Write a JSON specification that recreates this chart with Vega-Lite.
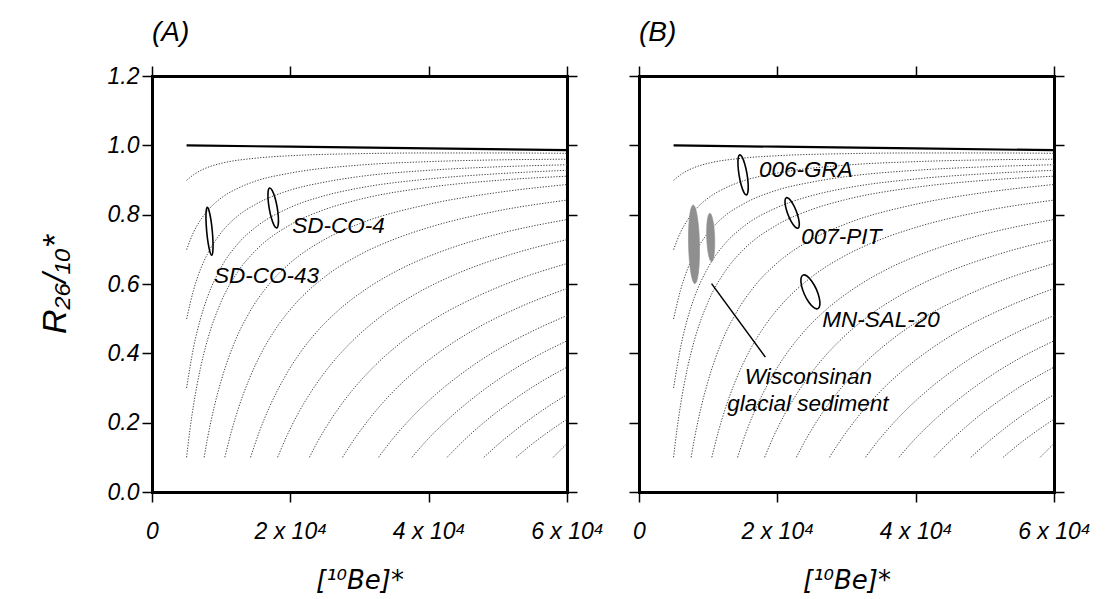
{
  "$schema": "https://vega.github.io/schema/vega-lite/v6.json",
  "padding": {"left": 38, "top": 19, "right": 5, "bottom": 5},
  "spacing": 24,
  "config": {
    "view": {"stroke": null},
    "font": "Liberation Sans",
    "axis": {
      "domainColor": "black", "domainWidth": 3, "domainCap": "square",
      "tickColor": "black", "tickWidth": 1.5, "tickSize": 10,
      "grid": false,
      "labelFont": "Liberation Sans", "labelFontStyle": "italic", "labelFontSize": 23, "labelColor": "black",
      "labelPadding": 3, "labelFlush": false, "labelOverlap": false,
      "titleFont": "Liberation Sans", "titleFontStyle": "italic", "titleFontWeight": "normal", "titleFontSize": 34, "titleColor": "black"
    },
    "title": {"font": "Liberation Sans", "fontStyle": "italic", "fontWeight": "normal", "fontSize": 28, "anchor": "start", "frame": "group", "color": "black", "offset": 18}
  },
  "datasets": {
    "curves": [
      {"c":"c1","x":5000,"y":0.899},{"c":"c1","x":6000,"y":0.915},{"c":"c1","x":8000,"y":0.936},{"c":"c1","x":10000,"y":0.948},{"c":"c1","x":15000,"y":0.963},{"c":"c1","x":20000,"y":0.970},{"c":"c1","x":30000,"y":0.976},{"c":"c1","x":40000,"y":0.978},{"c":"c1","x":50000,"y":0.978},{"c":"c1","x":60000,"y":0.977},
      {"c":"c2","x":5000,"y":0.699},{"c":"c2","x":6000,"y":0.749},{"c":"c2","x":7000,"y":0.784},{"c":"c2","x":8000,"y":0.811},{"c":"c2","x":10000,"y":0.848},{"c":"c2","x":12500,"y":0.877},{"c":"c2","x":15000,"y":0.897},{"c":"c2","x":20000,"y":0.920},{"c":"c2","x":30000,"y":0.943},{"c":"c2","x":40000,"y":0.953},{"c":"c2","x":50000,"y":0.958},{"c":"c2","x":60000,"y":0.960},
      {"c":"c3","x":5000,"y":0.499},{"c":"c3","x":6000,"y":0.582},{"c":"c3","x":7000,"y":0.642},{"c":"c3","x":8000,"y":0.686},{"c":"c3","x":10000,"y":0.748},{"c":"c3","x":12500,"y":0.798},{"c":"c3","x":15000,"y":0.830},{"c":"c3","x":20000,"y":0.871},{"c":"c3","x":25000,"y":0.894},{"c":"c3","x":30000,"y":0.910},{"c":"c3","x":40000,"y":0.928},{"c":"c3","x":50000,"y":0.938},{"c":"c3","x":60000,"y":0.944},
      {"c":"c4","x":5000,"y":0.300},{"c":"c4","x":6000,"y":0.416},{"c":"c4","x":7000,"y":0.499},{"c":"c4","x":8000,"y":0.561},{"c":"c4","x":10000,"y":0.648},{"c":"c4","x":12500,"y":0.718},{"c":"c4","x":15000,"y":0.764},{"c":"c4","x":20000,"y":0.821},{"c":"c4","x":25000,"y":0.855},{"c":"c4","x":30000,"y":0.877},{"c":"c4","x":40000,"y":0.903},{"c":"c4","x":50000,"y":0.918},{"c":"c4","x":60000,"y":0.928},
      {"c":"c5","x":5000,"y":0.100},{"c":"c5","x":5500,"y":0.182},{"c":"c5","x":6000,"y":0.250},{"c":"c5","x":7000,"y":0.357},{"c":"c5","x":8000,"y":0.437},{"c":"c5","x":10000,"y":0.549},{"c":"c5","x":12500,"y":0.638},{"c":"c5","x":15000,"y":0.697},{"c":"c5","x":20000,"y":0.771},{"c":"c5","x":25000,"y":0.815},{"c":"c5","x":30000,"y":0.844},{"c":"c5","x":40000,"y":0.879},{"c":"c5","x":50000,"y":0.899},{"c":"c5","x":60000,"y":0.911},
      {"c":"c6","x":7540,"y":0.1},{"c":"c6","x":8000,"y":0.152},{"c":"c6","x":9000,"y":0.246},{"c":"c6","x":10000,"y":0.321},{"c":"c6","x":12000,"y":0.435},{"c":"c6","x":14000,"y":0.515},{"c":"c6","x":17000,"y":0.601},{"c":"c6","x":20000,"y":0.661},{"c":"c6","x":25000,"y":0.729},{"c":"c6","x":30000,"y":0.774},{"c":"c6","x":40000,"y":0.830},{"c":"c6","x":50000,"y":0.864},{"c":"c6","x":60000,"y":0.887},
      {"c":"c7","x":10530,"y":0.1},{"c":"c7","x":11500,"y":0.176},{"c":"c7","x":12500,"y":0.242},{"c":"c7","x":14000,"y":0.323},{"c":"c7","x":16000,"y":0.408},{"c":"c7","x":18000,"y":0.474},{"c":"c7","x":21000,"y":0.549},{"c":"c7","x":25000,"y":0.621},{"c":"c7","x":30000,"y":0.684},{"c":"c7","x":35000,"y":0.729},{"c":"c7","x":40000,"y":0.763},{"c":"c7","x":50000,"y":0.811},{"c":"c7","x":60000,"y":0.842},
      {"c":"c8","x":14250,"y":0.1},{"c":"c8","x":15500,"y":0.173},{"c":"c8","x":17000,"y":0.246},{"c":"c8","x":19000,"y":0.325},{"c":"c8","x":21500,"y":0.404},{"c":"c8","x":24000,"y":0.466},{"c":"c8","x":27000,"y":0.525},{"c":"c8","x":31000,"y":0.586},{"c":"c8","x":36000,"y":0.644},{"c":"c8","x":42000,"y":0.695},{"c":"c8","x":50000,"y":0.744},{"c":"c8","x":60000,"y":0.786},
      {"c":"c9","x":18160,"y":0.1},{"c":"c9","x":19500,"y":0.162},{"c":"c9","x":21000,"y":0.222},{"c":"c9","x":23000,"y":0.289},{"c":"c9","x":26000,"y":0.371},{"c":"c9","x":29000,"y":0.436},{"c":"c9","x":33000,"y":0.505},{"c":"c9","x":38000,"y":0.570},{"c":"c9","x":44000,"y":0.629},{"c":"c9","x":52000,"y":0.686},{"c":"c9","x":60000,"y":0.728},
      {"c":"c10","x":22750,"y":0.1},{"c":"c10","x":24000,"y":0.147},{"c":"c10","x":26000,"y":0.213},{"c":"c10","x":28500,"y":0.282},{"c":"c10","x":32000,"y":0.360},{"c":"c10","x":36000,"y":0.431},{"c":"c10","x":41000,"y":0.501},{"c":"c10","x":47000,"y":0.564},{"c":"c10","x":53000,"y":0.614},{"c":"c10","x":60000,"y":0.659},
      {"c":"c11","x":27540,"y":0.1},{"c":"c11","x":29000,"y":0.145},{"c":"c11","x":31500,"y":0.213},{"c":"c11","x":34500,"y":0.282},{"c":"c11","x":38000,"y":0.348},{"c":"c11","x":42000,"y":0.410},{"c":"c11","x":47000,"y":0.473},{"c":"c11","x":53000,"y":0.532},{"c":"c11","x":60000,"y":0.587},
      {"c":"c12","x":32750,"y":0.1},{"c":"c12","x":34500,"y":0.146},{"c":"c12","x":37500,"y":0.214},{"c":"c12","x":41000,"y":0.281},{"c":"c12","x":45000,"y":0.345},{"c":"c12","x":50000,"y":0.411},{"c":"c12","x":55000,"y":0.464},{"c":"c12","x":60000,"y":0.509},
      {"c":"c13","x":37580,"y":0.1},{"c":"c13","x":40000,"y":0.155},{"c":"c13","x":43000,"y":0.213},{"c":"c13","x":47000,"y":0.280},{"c":"c13","x":51000,"y":0.337},{"c":"c13","x":55500,"y":0.391},{"c":"c13","x":60000,"y":0.436},
      {"c":"c14","x":42650,"y":0.1},{"c":"c14","x":45000,"y":0.147},{"c":"c14","x":48500,"y":0.209},{"c":"c14","x":52500,"y":0.269},{"c":"c14","x":56000,"y":0.315},{"c":"c14","x":60000,"y":0.360},
      {"c":"c15","x":47970,"y":0.1},{"c":"c15","x":50500,"y":0.145},{"c":"c15","x":53500,"y":0.193},{"c":"c15","x":57000,"y":0.243},{"c":"c15","x":60000,"y":0.281},
      {"c":"c16","x":52650,"y":0.1},{"c":"c16","x":55000,"y":0.139},{"c":"c16","x":57500,"y":0.176},{"c":"c16","x":60000,"y":0.210},
      {"c":"c17","x":58000,"y":0.1},{"c":"c17","x":59000,"y":0.12},{"c":"c17","x":60000,"y":0.14}
    ],
    "solid": [
      {"x":5000,"y":1.0},{"x":20000,"y":0.996},{"x":40000,"y":0.991},{"x":60000,"y":0.986}
    ],
    "ellA": [
      {"e":"SD-CO-43","i":0,"x":7995,"y":0.821},{"e":"SD-CO-43","i":1,"x":8239,"y":0.812},{"e":"SD-CO-43","i":2,"x":8503,"y":0.787},{"e":"SD-CO-43","i":3,"x":8716,"y":0.753},{"e":"SD-CO-43","i":4,"x":8821,"y":0.718},{"e":"SD-CO-43","i":5,"x":8790,"y":0.693},{"e":"SD-CO-43","i":6,"x":8631,"y":0.683},{"e":"SD-CO-43","i":7,"x":8387,"y":0.692},{"e":"SD-CO-43","i":8,"x":8123,"y":0.717},{"e":"SD-CO-43","i":9,"x":7910,"y":0.751},{"e":"SD-CO-43","i":10,"x":7805,"y":0.786},{"e":"SD-CO-43","i":11,"x":7836,"y":0.811},
      {"e":"SD-CO-4","i":0,"x":17016,"y":0.877},{"e":"SD-CO-4","i":1,"x":17369,"y":0.870},{"e":"SD-CO-4","i":2,"x":17763,"y":0.850},{"e":"SD-CO-4","i":3,"x":18092,"y":0.8215},{"e":"SD-CO-4","i":4,"x":18269,"y":0.7925},{"e":"SD-CO-4","i":5,"x":18245,"y":0.7707},{"e":"SD-CO-4","i":6,"x":18028,"y":0.762},{"e":"SD-CO-4","i":7,"x":17675,"y":0.7687},{"e":"SD-CO-4","i":8,"x":17281,"y":0.789},{"e":"SD-CO-4","i":9,"x":16952,"y":0.8175},{"e":"SD-CO-4","i":10,"x":16775,"y":0.8465},{"e":"SD-CO-4","i":11,"x":16799,"y":0.8683}
    ],
    "ellB": [
      {"e":"006-GRA","i":0,"x":14567,"y":0.9725},{"e":"006-GRA","i":1,"x":14917,"y":0.9658},{"e":"006-GRA","i":2,"x":15302,"y":0.9454},{"e":"006-GRA","i":3,"x":15619,"y":0.9167},{"e":"006-GRA","i":4,"x":15784,"y":0.8876},{"e":"006-GRA","i":5,"x":15751,"y":0.8657},{"e":"006-GRA","i":6,"x":15531,"y":0.857},{"e":"006-GRA","i":7,"x":15181,"y":0.8638},{"e":"006-GRA","i":8,"x":14796,"y":0.8843},{"e":"006-GRA","i":9,"x":14479,"y":0.9129},{"e":"006-GRA","i":10,"x":14314,"y":0.942},{"e":"006-GRA","i":11,"x":14347,"y":0.9639},
      {"e":"007-PIT","i":0,"x":21300,"y":0.849},{"e":"007-PIT","i":1,"x":21716,"y":0.8454},{"e":"007-PIT","i":2,"x":22245,"y":0.831},{"e":"007-PIT","i":3,"x":22746,"y":0.8097},{"e":"007-PIT","i":4,"x":23085,"y":0.787},{"e":"007-PIT","i":5,"x":23170,"y":0.7692},{"e":"007-PIT","i":6,"x":22980,"y":0.761},{"e":"007-PIT","i":7,"x":22564,"y":0.7646},{"e":"007-PIT","i":8,"x":22035,"y":0.779},{"e":"007-PIT","i":9,"x":21534,"y":0.8004},{"e":"007-PIT","i":10,"x":21195,"y":0.823},{"e":"007-PIT","i":11,"x":21110,"y":0.8408},
      {"e":"MN-SAL-20","i":0,"x":23700,"y":0.6256},{"e":"MN-SAL-20","i":1,"x":24272,"y":0.623},{"e":"MN-SAL-20","i":2,"x":24980,"y":0.6081},{"e":"MN-SAL-20","i":3,"x":25635,"y":0.585},{"e":"MN-SAL-20","i":4,"x":26060,"y":0.5598},{"e":"MN-SAL-20","i":5,"x":26143,"y":0.5393},{"e":"MN-SAL-20","i":6,"x":25860,"y":0.529},{"e":"MN-SAL-20","i":7,"x":25288,"y":0.5316},{"e":"MN-SAL-20","i":8,"x":24580,"y":0.5465},{"e":"MN-SAL-20","i":9,"x":23925,"y":0.5696},{"e":"MN-SAL-20","i":10,"x":23500,"y":0.5948},{"e":"MN-SAL-20","i":11,"x":23417,"y":0.6153}
    ],
    "gray": [
      {"e":"W1","i":0,"x":7830,"y":0.828},{"e":"W1","i":1,"x":8243,"y":0.813},{"e":"W1","i":2,"x":8579,"y":0.7716},{"e":"W1","i":3,"x":8747,"y":0.7149},{"e":"W1","i":4,"x":8703,"y":0.6581},{"e":"W1","i":5,"x":8458,"y":0.6164},{"e":"W1","i":6,"x":8078,"y":0.601},{"e":"W1","i":7,"x":7665,"y":0.616},{"e":"W1","i":8,"x":7329,"y":0.6575},{"e":"W1","i":9,"x":7161,"y":0.7142},{"e":"W1","i":10,"x":7205,"y":0.771},{"e":"W1","i":11,"x":7450,"y":0.8126},
      {"e":"W2","i":0,"x":10240,"y":0.804},{"e":"W2","i":1,"x":10546,"y":0.7948},{"e":"W2","i":2,"x":10803,"y":0.7694},{"e":"W2","i":3,"x":10943,"y":0.7344},{"e":"W2","i":4,"x":10928,"y":0.6994},{"e":"W2","i":5,"x":10762,"y":0.6736},{"e":"W2","i":6,"x":10490,"y":0.664},{"e":"W2","i":7,"x":10184,"y":0.6732},{"e":"W2","i":8,"x":9927,"y":0.6987},{"e":"W2","i":9,"x":9787,"y":0.7336},{"e":"W2","i":10,"x":9802,"y":0.7687},{"e":"W2","i":11,"x":9968,"y":0.7944}
    ],
    "lead": [{"x":10490,"y":0.601},{"x":18270,"y":0.389}],
    "labA": [
      {"t":"SD-CO-4","x":20280,"y":0.766},
      {"t":"SD-CO-43","x":8964,"y":0.622}
    ],
    "labB": [
      {"t":"006-GRA","x":17350,"y":0.929},
      {"t":"007-PIT","x":23470,"y":0.7365},
      {"t":"MN-SAL-20","x":26500,"y":0.4954}
    ],
    "labBc": [
      {"t":"Wisconsinan","x":24490,"y":0.3317},
      {"t":"glacial sediment","x":24420,"y":0.2545}
    ]
  },
  "hconcat": [
    {
      "title": {"text": "(A)"},
      "width": 415, "height": 416,
      "resolve": {"axis": {"x": "independent", "y": "independent"}},
      "layer": [
        {
          "data": {"name": "curves"},
          "mark": {"type": "line", "stroke": "#444", "strokeWidth": 1, "strokeDash": [1.3, 1.5], "interpolate": "monotone"},
          "encoding": {
            "x": {"field": "x", "type": "quantitative", "scale": {"domain": [0, 60000], "nice": false, "zero": false},
                  "axis": {"orient": "bottom", "values": [0, 20000, 40000, 60000], "labelFontSize": 23, "labelPadding": 18, "titlePadding": 24,
                           "titleFont": "DejaVu Sans", "titleFontSize": 26,
                           "labelExpr": "datum.value == 0 ? '0' : (datum.value / 10000) + ' x 10⁴'", "title": "[¹⁰Be]*"}},
            "y": {"field": "y", "type": "quantitative", "scale": {"domain": [0, 1.2], "nice": false, "zero": false},
                  "axis": {"orient": "left", "values": [0, 0.2, 0.4, 0.6, 0.8, 1.0, 1.2], "format": ".1f", "titlePadding": 35, "title": "R₂₆/₁₀*"}},
            "detail": {"field": "c"}
          }
        },
        {
          "data": {"name": "solid"},
          "mark": {"type": "line", "stroke": "black", "strokeWidth": 2.2},
          "encoding": {
            "x": {"field": "x", "type": "quantitative", "scale": {"domain": [0, 60000], "nice": false, "zero": false},
                  "axis": {"orient": "top", "values": [0, 20000, 40000, 60000], "labels": false, "title": null}},
            "y": {"field": "y", "type": "quantitative", "scale": {"domain": [0, 1.2], "nice": false, "zero": false},
                  "axis": {"orient": "right", "values": [0, 0.2, 0.4, 0.6, 0.8, 1.0, 1.2], "labels": false, "title": null}}
          }
        },
        {
          "data": {"name": "ellA"},
          "mark": {"type": "line", "stroke": "black", "strokeWidth": 1.6, "interpolate": "cardinal-closed"},
          "encoding": {
            "x": {"field": "x", "type": "quantitative", "axis": null},
            "y": {"field": "y", "type": "quantitative", "axis": null},
            "detail": {"field": "e"},
            "order": {"field": "i"}
          }
        },
        {
          "data": {"name": "labA"},
          "mark": {"type": "text", "font": "Liberation Sans", "fontStyle": "italic", "fontSize": 22.5, "align": "left", "baseline": "middle", "color": "black"},
          "encoding": {
            "x": {"field": "x", "type": "quantitative", "axis": null},
            "y": {"field": "y", "type": "quantitative", "axis": null},
            "text": {"field": "t"}
          }
        }
      ]
    },
    {
      "title": {"text": "(B)"},
      "width": 415, "height": 416,
      "resolve": {"axis": {"x": "independent", "y": "independent"}},
      "layer": [
        {
          "data": {"name": "curves"},
          "mark": {"type": "line", "stroke": "#444", "strokeWidth": 1, "strokeDash": [1.3, 1.5], "interpolate": "monotone"},
          "encoding": {
            "x": {"field": "x", "type": "quantitative", "scale": {"domain": [0, 60000], "nice": false, "zero": false},
                  "axis": {"orient": "bottom", "values": [0, 20000, 40000, 60000], "labelFontSize": 23, "labelPadding": 18, "titlePadding": 24,
                           "titleFont": "DejaVu Sans", "titleFontSize": 26,
                           "labelExpr": "datum.value == 0 ? '0' : (datum.value / 10000) + ' x 10⁴'", "title": "[¹⁰Be]*"}},
            "y": {"field": "y", "type": "quantitative", "scale": {"domain": [0, 1.2], "nice": false, "zero": false},
                  "axis": {"orient": "left", "values": [0, 0.2, 0.4, 0.6, 0.8, 1.0, 1.2], "labels": false, "title": null}},
            "detail": {"field": "c"}
          }
        },
        {
          "data": {"name": "solid"},
          "mark": {"type": "line", "stroke": "black", "strokeWidth": 2.2},
          "encoding": {
            "x": {"field": "x", "type": "quantitative", "scale": {"domain": [0, 60000], "nice": false, "zero": false},
                  "axis": {"orient": "top", "values": [0, 20000, 40000, 60000], "labels": false, "title": null}},
            "y": {"field": "y", "type": "quantitative", "scale": {"domain": [0, 1.2], "nice": false, "zero": false},
                  "axis": {"orient": "right", "values": [0, 0.2, 0.4, 0.6, 0.8, 1.0, 1.2], "labels": false, "title": null}}
          }
        },
        {
          "data": {"name": "gray"},
          "mark": {"type": "line", "fill": "#8f8f8f", "stroke": "#8f8f8f", "strokeWidth": 0.6, "interpolate": "cardinal-closed"},
          "encoding": {
            "x": {"field": "x", "type": "quantitative", "axis": null},
            "y": {"field": "y", "type": "quantitative", "axis": null},
            "detail": {"field": "e"},
            "order": {"field": "i"}
          }
        },
        {
          "data": {"name": "ellB"},
          "mark": {"type": "line", "stroke": "black", "strokeWidth": 1.6, "interpolate": "cardinal-closed"},
          "encoding": {
            "x": {"field": "x", "type": "quantitative", "axis": null},
            "y": {"field": "y", "type": "quantitative", "axis": null},
            "detail": {"field": "e"},
            "order": {"field": "i"}
          }
        },
        {
          "data": {"name": "lead"},
          "mark": {"type": "line", "stroke": "black", "strokeWidth": 1.5},
          "encoding": {
            "x": {"field": "x", "type": "quantitative", "axis": null},
            "y": {"field": "y", "type": "quantitative", "axis": null}
          }
        },
        {
          "data": {"name": "labB"},
          "mark": {"type": "text", "font": "Liberation Sans", "fontStyle": "italic", "fontSize": 22.5, "align": "left", "baseline": "middle", "color": "black"},
          "encoding": {
            "x": {"field": "x", "type": "quantitative", "axis": null},
            "y": {"field": "y", "type": "quantitative", "axis": null},
            "text": {"field": "t"}
          }
        },
        {
          "data": {"name": "labBc"},
          "mark": {"type": "text", "font": "Liberation Sans", "fontStyle": "italic", "fontSize": 22.5, "align": "center", "baseline": "middle", "color": "black"},
          "encoding": {
            "x": {"field": "x", "type": "quantitative", "axis": null},
            "y": {"field": "y", "type": "quantitative", "axis": null},
            "text": {"field": "t"}
          }
        }
      ]
    }
  ]
}
